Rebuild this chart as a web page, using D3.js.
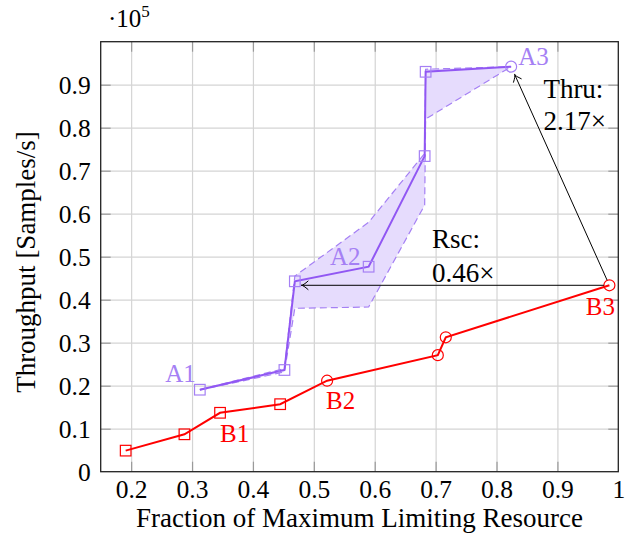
<!DOCTYPE html>
<html>
<head>
<meta charset="utf-8">
<script src="https://cdn.jsdelivr.net/npm/d3@7"></script>
<style>
  body { margin: 0; background: #fff; }
  text { font-family: "Liberation Serif", "Times New Roman", serif; }
</style>
</head>
<body>
<div id="chart"></div>
<script>
// Tick values and labels
const xTicks = [0.2, 0.3, 0.4, 0.5, 0.6, 0.7, 0.8, 0.9, 1.0];
const xTickLabels = ["0.2", "0.3", "0.4", "0.5", "0.6", "0.7", "0.8", "0.9", "1"];
const yTicks = [0, 0.1, 0.2, 0.3, 0.4, 0.5, 0.6, 0.7, 0.8, 0.9];
const yTickLabels = ["0", "0.1", "0.2", "0.3", "0.4", "0.5", "0.6", "0.7", "0.8", "0.9"];

// Baseline series (B), throughput in units of 1e5
const baseX = [0.191, 0.2875, 0.346, 0.4447, 0.5218, 0.7036, 0.7167, 0.9854];
const baseY = [0.049, 0.087, 0.137, 0.157, 0.2116, 0.271, 0.3126, 0.4335];
const baseMarkers = ["square", "square", "square", "square", "circle", "circle", "circle", "circle"];

// Optimized series (A) with its min/max band
const optX = [0.3128, 0.4517, 0.4688, 0.590, 0.682, 0.6836, 0.824];
const optY = [0.1907, 0.2365, 0.4428, 0.4767, 0.734, 0.930, 0.942];
const optMarkers = ["square", "square", "square", "square", "square", "square", "circle"];
const bandUpper = [0.191, 0.240, 0.455, 0.580, 0.740, 0.936, 0.942];
const bandLower = [0.190, 0.232, 0.380, 0.383, 0.620, 0.820, 0.942];

// Point labels: text, index of point
const optLabels = [["A1", 0], ["A2", 3], ["A3", 6]];
const baseLabels = [["B1", 2], ["B2", 4], ["B3", 7]];

// Annotation texts (data coordinates)
const notes = [
  { text: "Rsc:", x: 0.694, y: 0.5195 },
  { text: "0.46\u00d7", x: 0.694, y: 0.442 },
  { text: "Thru:", x: 0.877, y: 0.868 },
  { text: "2.17\u00d7", x: 0.877, y: 0.795 }
];

const W = 632, H = 541;
const mLeft = 100.7, mRight = 618.3, mTop = 41.7, mBottom = 471.7;

const svg = d3.select('#chart').append('svg')
  .attr('width', W)
  .attr('height', H);

const x = d3.scaleLinear().domain([0.15, 1.0]).range([mLeft, mRight]);
const y = d3.scaleLinear().domain([0, 1.0]).range([mBottom, mTop]);

const RED = '#ff0000';
const PURPLE = '#9157f3';
const PURPLE_LIGHT = '#a580f4';
const FILL = '#e6dcfd';
const FS = 27;       // titles and annotations
const FS_TICK = 25.5;  // tick labels
const FS_PT = 25;    // point labels

// Grid
const gridX = svg.append('g')
  .attr('transform', `translate(0,${mBottom})`)
  .call(d3.axisBottom(x).tickValues(xTicks.slice(0, -1)).tickSize(-(mBottom - mTop)).tickFormat(''));
const gridY = svg.append('g')
  .attr('transform', `translate(${mLeft},0)`)
  .call(d3.axisLeft(y).tickValues(yTicks.slice(1)).tickSize(-(mRight - mLeft)).tickFormat(''));
[gridX, gridY].forEach(g => {
  g.select('.domain').remove();
  g.selectAll('line').attr('stroke', '#d4d4d4').attr('stroke-width', 1.2);
});

// Inner tick marks on all four sides
const tickLen = 10;
const tickAxes = [
  svg.append('g').attr('transform', `translate(0,${mBottom})`)
    .call(d3.axisBottom(x).tickValues(xTicks.slice(0, -1)).tickSize(-tickLen).tickFormat('')),
  svg.append('g').attr('transform', `translate(0,${mTop})`)
    .call(d3.axisTop(x).tickValues(xTicks.slice(0, -1)).tickSize(-tickLen).tickFormat('')),
  svg.append('g').attr('transform', `translate(${mLeft},0)`)
    .call(d3.axisLeft(y).tickValues(yTicks.slice(1)).tickSize(-tickLen).tickFormat('')),
  svg.append('g').attr('transform', `translate(${mRight},0)`)
    .call(d3.axisRight(y).tickValues(yTicks.slice(1)).tickSize(-tickLen).tickFormat(''))
];
tickAxes.forEach(g => {
  g.select('.domain').remove();
  g.selectAll('line').attr('stroke', '#9a9a9a').attr('stroke-width', 1.2);
});

// Tick labels
const xLab = svg.append('g')
  .attr('transform', `translate(0,${mBottom})`)
  .call(d3.axisBottom(x).tickValues(xTicks).tickSize(0).tickPadding(10)
    .tickFormat((d, i) => xTickLabels[i]));
const yLab = svg.append('g')
  .attr('transform', `translate(${mLeft},0)`)
  .call(d3.axisLeft(y).tickValues(yTicks).tickSize(0).tickPadding(10)
    .tickFormat((d, i) => yTickLabels[i]));
[xLab, yLab].forEach(g => {
  g.attr('font-family', null).attr('font-size', null);
  g.select('.domain').remove();
  g.selectAll('text')
    .attr('font-size', FS_TICK)
    .attr('fill', '#000');
});
xLab.selectAll('text').attr('dy', null).attr('y', 26.3);
yLab.selectAll('text').attr('dy', '0.34em');

// Band between min and max
const bandData = optX.map((d, i) => ({ x: d, lo: bandLower[i], hi: bandUpper[i] }));
svg.append('path')
  .datum(bandData)
  .attr('fill', FILL)
  .attr('d', d3.area().x(d => x(d.x)).y0(d => y(d.lo)).y1(d => y(d.hi)));
[bandUpper, bandLower].forEach(arr => {
  svg.append('path')
    .datum(optX.map((d, i) => [d, arr[i]]))
    .attr('fill', 'none')
    .attr('stroke', PURPLE_LIGHT)
    .attr('stroke-width', 1.2)
    .attr('stroke-dasharray', '7,4')
    .attr('d', d3.line().x(d => x(d[0])).y(d => y(d[1])));
});

// Lines
const line = d3.line().x(d => x(d[0])).y(d => y(d[1]));
const base = baseX.map((d, i) => [d, baseY[i]]);
const opt = optX.map((d, i) => [d, optY[i]]);

svg.append('path').datum(base)
  .attr('fill', 'none').attr('stroke', RED).attr('stroke-width', 2)
  .attr('d', line);
svg.append('path').datum(opt)
  .attr('fill', 'none').attr('stroke', PURPLE).attr('stroke-width', 2)
  .attr('d', line);

// Markers
function drawMarkers(pts, kinds, color) {
  const g = svg.append('g');
  pts.forEach((p, i) => {
    const cx = x(p[0]), cy = y(p[1]);
    if (kinds[i] === 'square') {
      g.append('rect')
        .attr('x', cx - 5.3).attr('y', cy - 5.3)
        .attr('width', 10.6).attr('height', 10.6)
        .attr('fill', 'none').attr('stroke', color).attr('stroke-width', 1.2);
    } else {
      g.append('circle')
        .attr('cx', cx).attr('cy', cy).attr('r', 5.5)
        .attr('fill', 'none').attr('stroke', color).attr('stroke-width', 1.2);
    }
  });
}
drawMarkers(base, baseMarkers, RED);
drawMarkers(opt, optMarkers, PURPLE_LIGHT);

// Arrows from B3 to A3 (throughput) and to the matching-throughput A point (resource)
function arrow(from, to, startGap, endGap) {
  const x0 = x(from[0]), y0 = y(from[1]);
  const x1 = x(to[0]), y1 = y(to[1]);
  const dx = x1 - x0, dy = y1 - y0, len = Math.hypot(dx, dy);
  const ux = dx / len, uy = dy / len;
  const sx = x0 + ux * startGap, sy = y0 + uy * startGap;
  const ex = x1 - ux * endGap, ey = y1 - uy * endGap;
  svg.append('line')
    .attr('x1', sx).attr('y1', sy).attr('x2', ex).attr('y2', ey)
    .attr('stroke', '#000').attr('stroke-width', 1);
  const hl = 7, hw = 4.5;
  const bx = ex - ux * hl, by = ey - uy * hl;
  const px = -uy, py = ux;
  svg.append('path')
    .attr('d', `M${bx + px * hw},${by + py * hw} Q${ex - ux * 2},${ey - uy * 2} ${ex},${ey} Q${ex - ux * 2},${ey - uy * 2} ${bx - px * hw},${by - py * hw}`)
    .attr('fill', 'none').attr('stroke', '#000').attr('stroke-width', 1);
}
arrow(base[7], opt[6], 5.5, 8.5);
arrow(base[7], [opt[2][0], base[7][1]], 5.5, 6.5);

// Point labels
const labelOffsets = {
  A1: { dx: -4, dy: -8, anchor: 'end' },
  A2: { dx: -8, dy: -2, anchor: 'end' },
  A3: { dx: 7, dy: -2, anchor: 'start' },
  B1: { dx: 0, dy: 29, anchor: 'start' },
  B2: { dx: -1, dy: 28, anchor: 'start' },
  B3: { dx: -9, dy: 30, anchor: 'middle' }
};
optLabels.forEach(([t, i]) => {
  const o = labelOffsets[t];
  svg.append('text')
    .attr('x', x(opt[i][0]) + o.dx).attr('y', y(opt[i][1]) + o.dy)
    .attr('text-anchor', o.anchor).attr('font-size', FS_PT)
    .attr('fill', PURPLE_LIGHT).text(t);
});
baseLabels.forEach(([t, i]) => {
  const o = labelOffsets[t];
  svg.append('text')
    .attr('x', x(base[i][0]) + o.dx).attr('y', y(base[i][1]) + o.dy)
    .attr('text-anchor', o.anchor).attr('font-size', FS_PT)
    .attr('fill', RED).text(t);
});

// Annotation texts
notes.forEach(n => {
  svg.append('text')
    .attr('x', x(n.x)).attr('y', y(n.y))
    .attr('font-size', FS).attr('fill', '#000')
    .text(n.text);
});

// Frame
svg.append('rect')
  .attr('x', mLeft).attr('y', mTop)
  .attr('width', mRight - mLeft).attr('height', mBottom - mTop)
  .attr('fill', 'none').attr('stroke', '#222').attr('stroke-width', 1.3);

// Axis titles
svg.append('text')
  .attr('x', (mLeft + mRight) / 2).attr('y', 526.5)
  .attr('text-anchor', 'middle').attr('font-size', FS)
  .text('Fraction of Maximum Limiting Resource');
svg.append('text')
  .attr('transform', 'translate(35,262) rotate(-90)')
  .attr('text-anchor', 'middle').attr('font-size', FS)
  .text('Throughput [Samples/s]');

// Scale factor
const sf = svg.append('text').attr('x', 108).attr('y', 27).attr('font-size', 25);
sf.append('tspan').text('\u00b710');
sf.append('tspan').attr('dy', -10).attr('font-size', 17).text('5');
</script>
</body>
</html>
